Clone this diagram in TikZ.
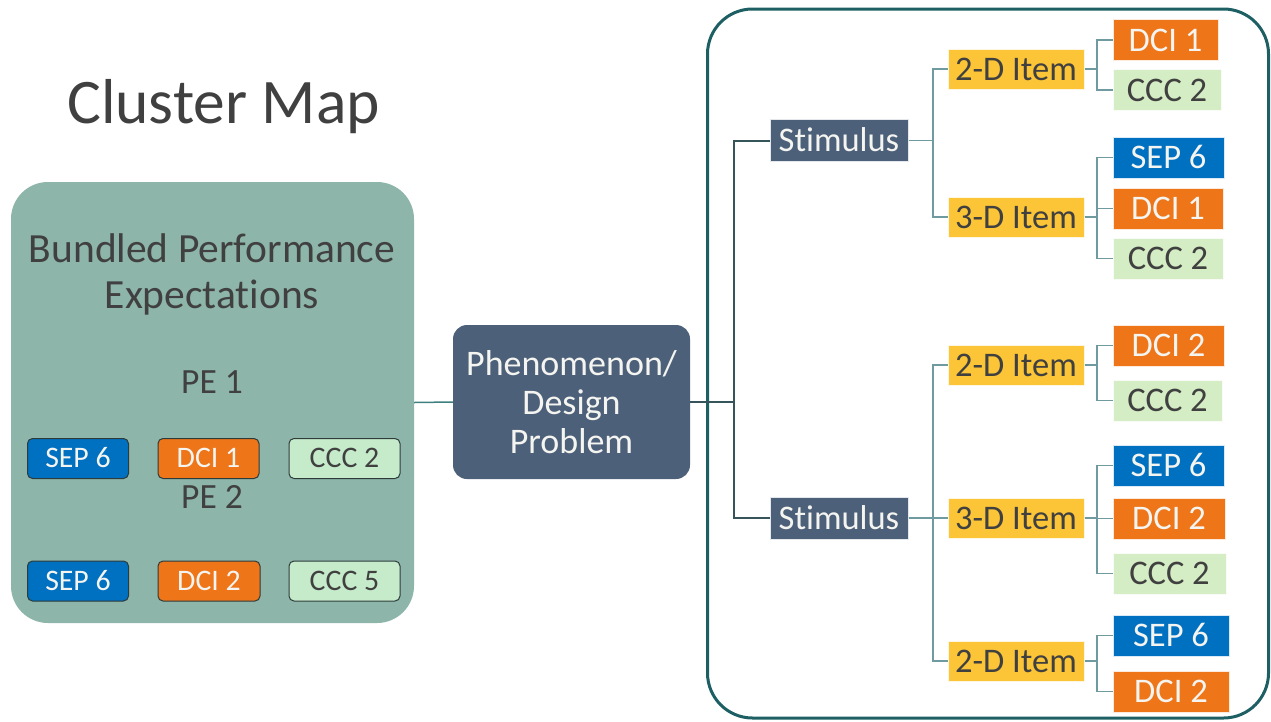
\documentclass[tikz,border=0pt]{standalone}
\usepackage{fontspec}
\setmainfont{Carlito}[Ligatures=NoCommon]
\definecolor{slate}{HTML}{4D6079}
\definecolor{itemyellow}{HTML}{FBC537}
\definecolor{dciorange}{HTML}{EE7518}
\definecolor{sepblue}{HTML}{0070C0}
\definecolor{cccgreen}{HTML}{D4EDC4}
\definecolor{cccleft}{HTML}{C6EBCB}
\definecolor{panelgreen}{HTML}{8DB5A9}
\definecolor{frameteal}{HTML}{1D5F63}
\definecolor{branchteal}{HTML}{6E9AA0}
\definecolor{trunkcol}{HTML}{35555A}
\definecolor{linkteal}{HTML}{3E7F80}
\definecolor{darktext}{HTML}{404040}
\definecolor{lighttext}{HTML}{F4F4F0}
\definecolor{boxedge}{HTML}{2E3B3B}
\begin{document}
\begin{tikzpicture}[x=1pt,y=-1pt,
  box/.style={rectangle, inner sep=0pt, text depth=0pt},
  stimbox/.style={box, fill=slate, draw=white!85!slate, line width=1pt, text=lighttext, minimum width=138pt, minimum height=42pt, font=\fontsize{34.5}{40}\selectfont, text height=22pt},
  itembox/.style={box, fill=itemyellow, draw=white!85!itemyellow, line width=1pt, text=darktext, minimum width=136pt, minimum height=40pt, font=\fontsize{34.5}{40}\selectfont, text height=22pt},
  leafbox/.style={box, line width=1pt, minimum height=41pt, font=\fontsize{34.5}{40}\selectfont, text height=22pt},
  dci/.style={leafbox, fill=dciorange, draw=white!85!dciorange, text=lighttext},
  sep/.style={leafbox, fill=sepblue, draw=white!85!sepblue, text=lighttext},
  ccc/.style={leafbox, fill=cccgreen, draw=white!85!cccgreen, text=darktext},
  smallbox/.style={box, rounded corners=5pt, draw=boxedge, line width=1pt, minimum width=101pt, minimum height=40pt, font=\fontsize{29.8}{35}\selectfont, text height=18.8pt},
  sdci/.style={smallbox, fill=dciorange, text=lighttext},
  ssep/.style={smallbox, fill=sepblue, text=lighttext},
  sccc/.style={smallbox, fill=cccleft, text=darktext, minimum width=111pt},
  br/.style={draw=branchteal, line width=1.6pt},
  trunkline/.style={draw=trunkcol, line width=2pt},
  ptext/.style={anchor=base, text=darktext, inner sep=0pt},
]
\useasboundingbox (0,0) rectangle (1271,721);

% title
\node[ptext, anchor=base west, font=\fontsize{63.5}{76}\selectfont] (title) at (67,123.3) {Cluster Map};

% left panel
\node[box, fill=panelgreen, rounded corners=37pt, minimum width=403pt, minimum height=441pt] (panel) at (212.5,402.5) {};
\node[ptext, font=\fontsize{41.5}{47}\selectfont] (bpe1) at (212,262) {Bundled Performance};
\node[ptext, font=\fontsize{41.5}{47}\selectfont] (bpe2) at (212,308) {Expectations};
\node[ptext, font=\fontsize{35.5}{40}\selectfont] (pe1) at (212,393) {PE 1};
\node[ptext, font=\fontsize{35.5}{40}\selectfont] (pe2) at (212,508) {PE 2};
\node[ssep] (s1) at (78,458.5) {SEP 6};
\node[sdci] (d1) at (208.5,458.5) {DCI 1};
\node[sccc] (c1) at (344.5,458.5) {CCC 2};
\node[ssep] (s2) at (78,581) {SEP 6};
\node[sdci, minimum width=102pt] (d2) at (209,581) {DCI 2};
\node[sccc] (c2) at (344.5,581) {CCC 5};

% phenomenon
\node[box, fill=slate, rounded corners=14pt, minimum width=237pt, minimum height=154pt, text=lighttext, align=center, font=\fontsize{36}{39}\selectfont] (phen) at (571.5,402) {Phenomenon/\\Design\\Problem};
\draw[draw=linkteal, line width=1.5pt] (panel.east) -- (phen.west);

% frame
\node[box, draw=frameteal, line width=3pt, rounded corners=45pt, minimum width=561pt, minimum height=709pt] (frame) at (988,363.5) {};

% coordinates for branch columns
\coordinate (trunk) at (734,0);
\coordinate (bxa) at (933,0);
\coordinate (bxb) at (1097,0);

% stimulus
\node[stimbox] (st1) at (839,140.5) {Stimulus};
\node[stimbox] (st2) at (839,518) {Stimulus};

% items
\node[itembox] (i1) at (1016,69) {2-D Item};
\node[itembox] (i2) at (1016,217) {3-D Item};
\node[itembox] (i3) at (1016,365) {2-D Item};
\node[itembox] (i4) at (1016,518) {3-D Item};
\node[itembox] (i5) at (1016,661) {2-D Item};

% leaves
\node[dci, minimum width=105pt] (l1) at (1165.5,40) {DCI 1};
\node[ccc, minimum width=108pt] (l2) at (1167,90) {CCC 2};
\node[sep, minimum width=111pt] (l3) at (1168.5,157.5) {SEP 6};
\node[dci, minimum width=110pt] (l4) at (1168,208.5) {DCI 1};
\node[ccc, minimum width=110pt] (l5) at (1168,258.5) {CCC 2};
\node[dci, minimum width=111pt] (l6) at (1168.5,345.5) {DCI 2};
\node[ccc, minimum width=109pt] (l7) at (1167.5,400.5) {CCC 2};
\node[sep, minimum width=111pt] (l8) at (1168.5,465.5) {SEP 6};
\node[dci, minimum width=112pt] (l9) at (1169,518.5) {DCI 2};
\node[ccc, minimum width=113pt] (l10) at (1169.5,573.5) {CCC 2};
\node[sep, minimum width=116pt] (l11) at (1171,635.5) {SEP 6};
\node[dci, minimum width=116pt] (l12) at (1171,691.5) {DCI 2};

% trunk
\draw[trunkline] (phen.east) -- (trunk |- phen.east);
\draw[trunkline] (st1.west) -| (trunk |- phen.east);
\draw[trunkline] (st2.west) -| (trunk |- phen.east);

% stimulus to items
\draw[br] (st1.east) -- (bxa |- st1.east) |- (i1.west);
\draw[br] (st1.east) -- (bxa |- st1.east) |- (i2.west);
\draw[br] (st2.east) -- (bxa |- st2.east) |- (i3.west);
\draw[br] (st2.east) -- (bxa |- st2.east) |- (i4.west);
\draw[br] (st2.east) -- (bxa |- st2.east) |- (i5.west);

% items to leaves
\draw[br] (i1.east) -- (bxb |- i1.east) |- (l1.west);
\draw[br] (i1.east) -- (bxb |- i1.east) |- (l2.west);
\draw[br] (i2.east) -- (bxb |- i2.east) |- (l3.west);
\draw[br] (i2.east) -- (bxb |- i2.east) |- (l4.west);
\draw[br] (i2.east) -- (bxb |- i2.east) |- (l5.west);
\draw[br] (i3.east) -- (bxb |- i3.east) |- (l6.west);
\draw[br] (i3.east) -- (bxb |- i3.east) |- (l7.west);
\draw[br] (i4.east) -- (bxb |- i4.east) |- (l8.west);
\draw[br] (i4.east) -- (bxb |- i4.east) |- (l9.west);
\draw[br] (i4.east) -- (bxb |- i4.east) |- (l10.west);
\draw[br] (i5.east) -- (bxb |- i5.east) |- (l11.west);
\draw[br] (i5.east) -- (bxb |- i5.east) |- (l12.west);
\end{tikzpicture}
\end{document}
